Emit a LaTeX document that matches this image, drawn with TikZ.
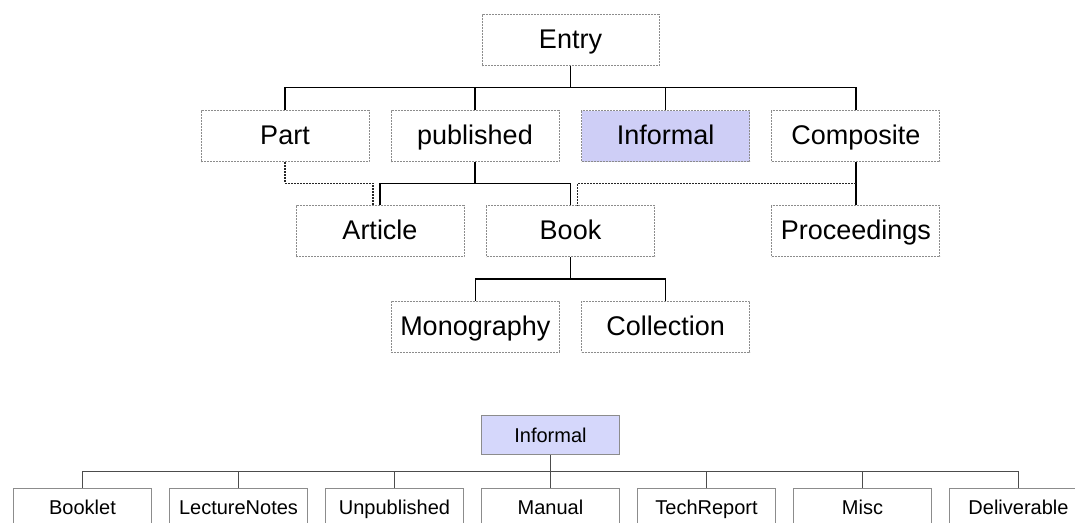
\documentclass[tikz,border=0pt]{standalone}
\usepackage{fontspec}
\setmainfont{Liberation Sans}

\definecolor{informalfill}{RGB}{206,206,246}
\definecolor{subfill}{RGB}{213,215,251}
\definecolor{boxgray}{RGB}{140,140,140}

\begin{document}
\begin{tikzpicture}[x=1pt, y=-1pt,
	classbox/.style={draw=boxgray, line width=1pt, dash pattern=on 2pt off 1pt, minimum width=168pt, minimum height=51pt, inner sep=0pt, text height=20pt, text depth=3.6pt, font=\fontsize{27}{30}\selectfont},
	subbox/.style={draw=boxgray, line width=0.9pt, minimum width=138.4pt, minimum height=39pt, inner sep=0pt, text height=16pt, text depth=1.6pt, font=\fontsize{20}{24}\selectfont},
	link/.style={line width=1.5pt, black},
	multilink/.style={line width=1.4pt, black!85, dash pattern=on 2pt off 1pt},
	sublink/.style={line width=1pt, black!70}]
			\useasboundingbox (0,0) rectangle (1075,522);
			\clip (0,0) rectangle (1075,522);

			\node [classbox, minimum width=177pt] (entry) at (570.5,40) {Entry};
			\node [classbox] (part) at (285,136.4) {Part};
			\node [classbox] (published) at (475,136.4) {published};
			\node [classbox, fill=informalfill] (informal) at (665.6,136.4) {Informal};
			\node [classbox] (composite) at (855.8,136.4) {Composite};
			\node [classbox] (article) at (380,231.4) {Article};
			\node [classbox] (book) at (570.5,231.4) {Book};
			\node [classbox] (proceedings) at (855.8,231.4) {Proceedings};
			\node [classbox] (monography) at (475.3,326.8) {Monography};
			\node [classbox] (collection) at (665.6,326.8) {Collection};

			\coordinate (entrybar) at (570.5,87.3);
			\coordinate (pubbar) at (475,183.3);
			\coordinate (compbar) at (855.8,183.3);
			\coordinate (bookbar) at (570.5,279);
			\coordinate (articlein) at ([xshift=-7pt]article.north);
			\coordinate (bookin) at ([xshift=7pt]book.north);

			\draw [link] (entry.south) -- (entrybar);
			\draw [link] (entrybar) -| (part.north);
			\draw [link] (entrybar) -| (published.north);
			\draw [link] (entrybar) -| (informal.north);
			\draw [link] (entrybar) -| (composite.north);
			\draw [link] (published.south) -- (pubbar);
			\draw [link] (pubbar) -| (article.north);
			\draw [link] (pubbar) -| (book.north);
			\draw [multilink] (part.south) |- (articlein |- pubbar) -- (articlein);
			\draw [link] (composite.south) -- (proceedings.north);
			\draw [multilink] (compbar) -| (bookin);
			\draw [link] (book.south) -- (bookbar);
			\draw [link] (bookbar) -| (monography.north);
			\draw [link] (bookbar) -| (collection.north);

			\node [subbox, fill=subfill] (informalsub) at (550.5,435) {Informal};
			\node [subbox] (booklet) at (82.5,507.7) {Booklet};
			\node [subbox] (lecturenotes) at (238.5,507.7) {LectureNotes};
			\node [subbox] (unpublished) at (394.5,507.7) {Unpublished};
			\node [subbox] (manual) at (550.5,507.7) {Manual};
			\node [subbox] (techreport) at (706.5,507.7) {TechReport};
			\node [subbox] (misc) at (862.5,507.7) {Misc};
			\node [subbox] (deliverable) at (1018.5,507.7) {Deliverable};

			\coordinate (subbar) at (550.5,471);
			\draw [sublink] (informalsub.south) -- (subbar);
			\draw [sublink] (subbar) -| (booklet.north);
			\draw [sublink] (subbar) -| (lecturenotes.north);
			\draw [sublink] (subbar) -| (unpublished.north);
			\draw [sublink] (subbar) -- (manual.north);
			\draw [sublink] (subbar) -| (techreport.north);
			\draw [sublink] (subbar) -| (misc.north);
			\draw [sublink] (subbar) -| (deliverable.north);
\end{tikzpicture}
\end{document}
